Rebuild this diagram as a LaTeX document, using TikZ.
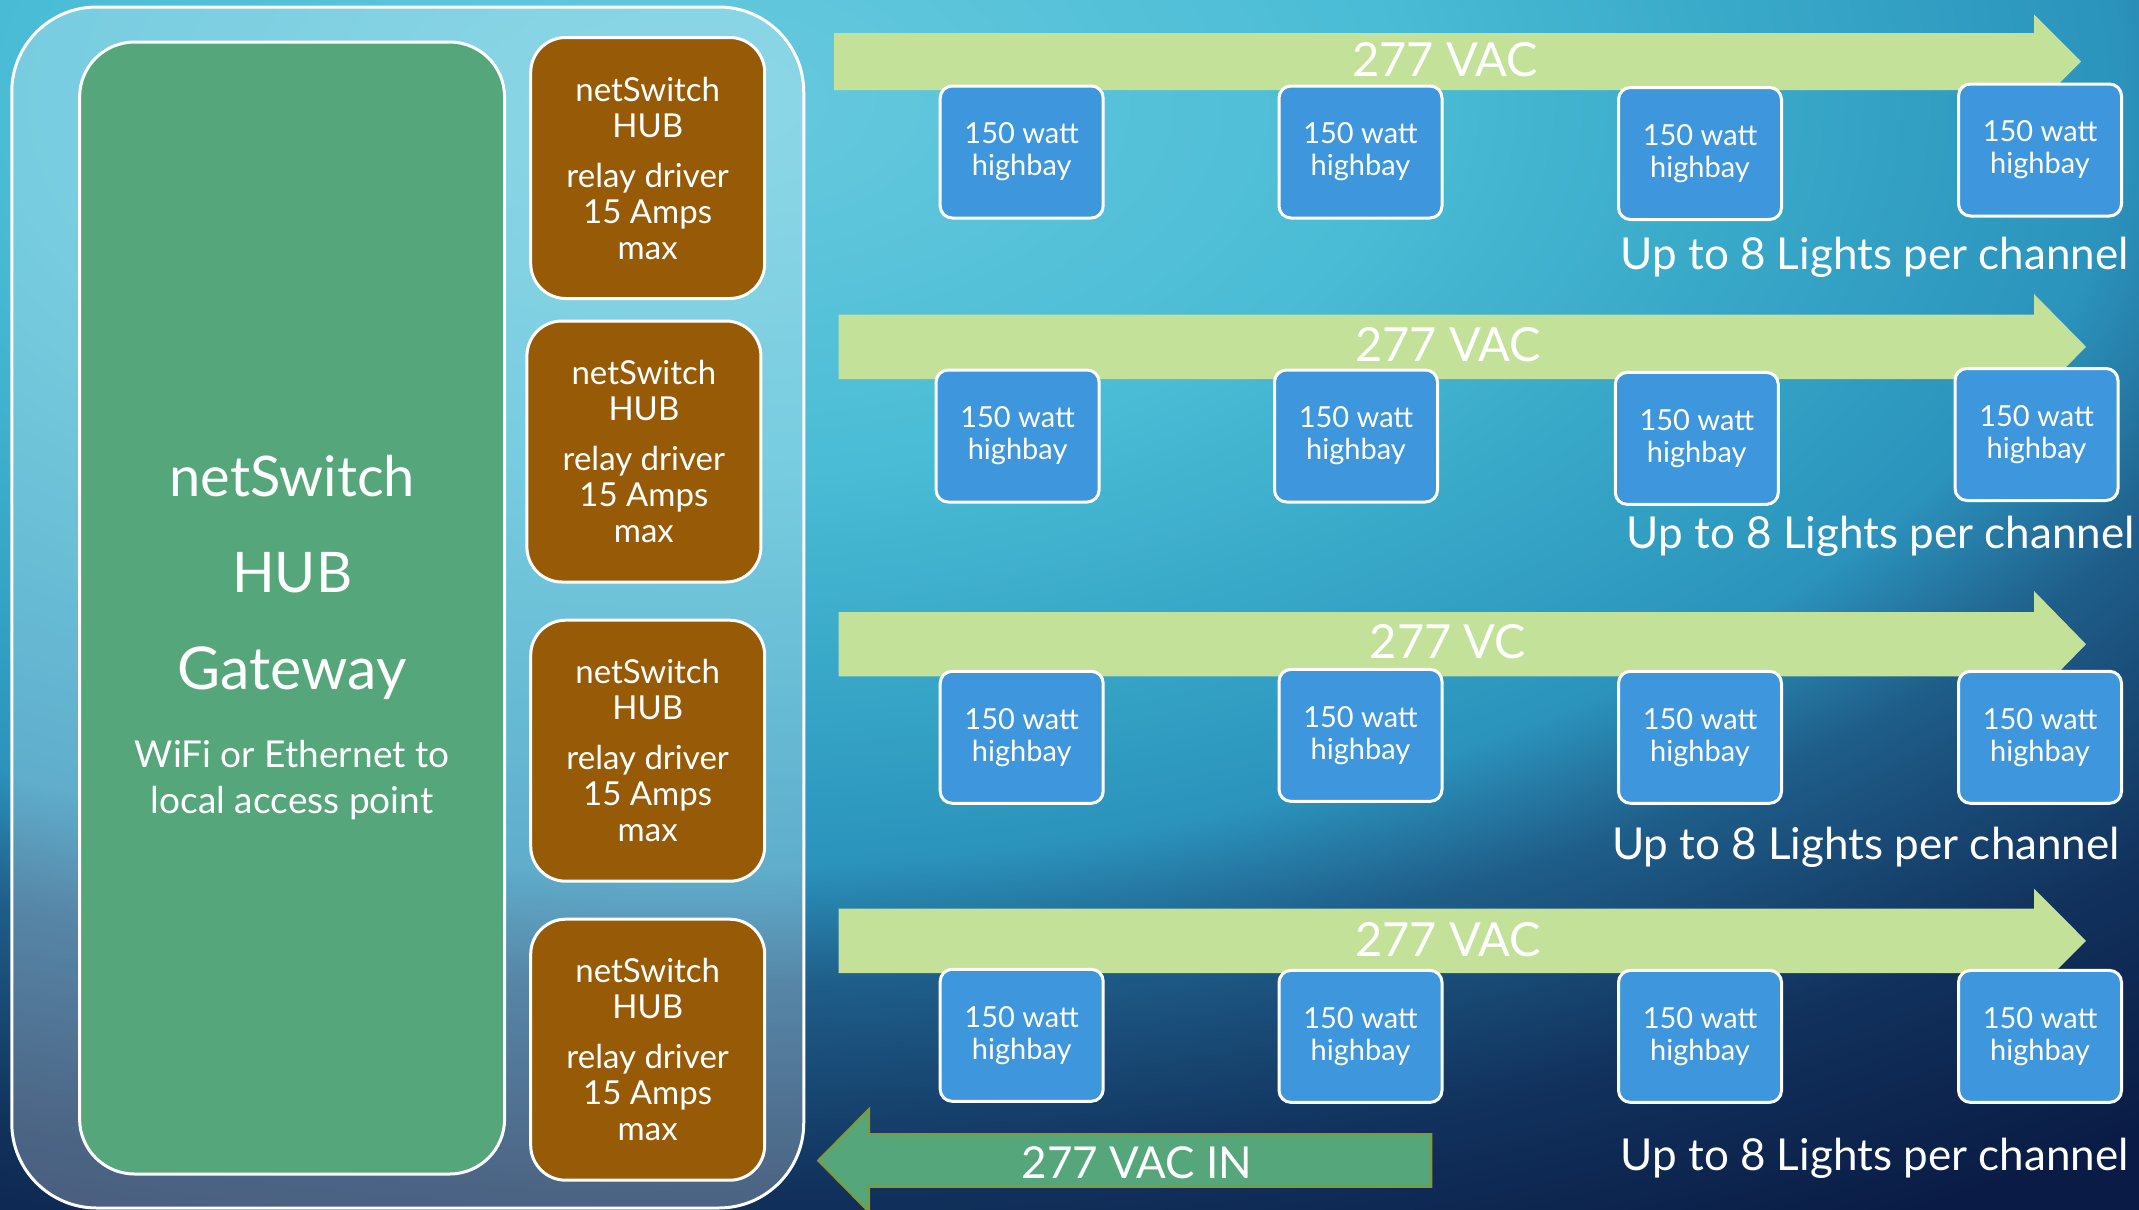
\documentclass[tikz,border=0pt]{standalone}
\usepackage{fontspec}
\setmainfont{Lato}
\definecolor{bgA}{HTML}{68CADF}
\definecolor{bgB}{HTML}{4ABCD5}
\definecolor{bgC}{HTML}{34A3C5}
\definecolor{bgD}{HTML}{2B93BC}
\definecolor{bgE}{HTML}{1F5E8A}
\definecolor{bgF}{HTML}{11325D}
\definecolor{bgG}{HTML}{0A1C45}
\definecolor{gwgreen}{HTML}{55A77B}
\definecolor{hubbrown}{HTML}{975A06}
\definecolor{lampblue}{HTML}{3E96DC}
\definecolor{chgreen}{HTML}{C4E19A}
\definecolor{inborder}{HTML}{7E9C3E}
\pgfdeclareradialshading{bgshade}{\pgfpoint{0bp}{0bp}}{color(0bp)=(bgA); color(6.7bp)=(bgB); color(11.1bp)=(bgC); color(13.7bp)=(bgD); color(15.8bp)=(bgE); color(19.4bp)=(bgF); color(23bp)=(bgG); color(50bp)=(bgG)}
\begin{document}
\begin{tikzpicture}[x=1pt,y=-1pt,
  every node/.style={inner sep=0pt, outer sep=0pt},
  panelbox/.style={draw=white, line width=3pt, fill=white, fill opacity=0.25, rounded corners=85pt, minimum width=792pt, minimum height=1201pt},
  gwbox/.style={draw=white, line width=3pt, fill=gwgreen, rounded corners=55pt, minimum width=425pt, minimum height=1132pt},
  hubbox/.style={draw=white, line width=3pt, fill=hubbrown, rounded corners=35pt, minimum width=234pt, minimum height=261pt, text=white, align=center, font=\fontsize{33}{36}\selectfont},
  lampbox/.style={draw=white, line width=3pt, fill=lampblue, rounded corners=12pt, minimum width=163pt, minimum height=132pt, text=white, align=center, font=\fontsize{29}{32}\selectfont},
  wtext/.style={text=white, anchor=base},
  gwbig/.style={wtext, font=\fontsize{56}{60}\selectfont},
  gwsmall/.style={wtext, font=\fontsize{37}{42}\selectfont},
  vlabel/.style={wtext, font=\fontsize{47}{50}\selectfont},
  perchan/.style={wtext, font=\fontsize{44}{48}\selectfont},
  chanarrow/.style={fill=chgreen},
  inarrow/.style={draw=inborder, line width=2.5pt, fill=gwgreen}
]
\useasboundingbox (0,0) rectangle (2139,1210);
% background
\begin{scope}
\clip (0,0) rectangle (2139,1210);
\shade[shading=bgshade] (700,100) ellipse [x radius=2600pt, y radius=1400pt];
\end{scope}

% left panel
\node[panelbox] (panel) at (407.75,607.5) {};
\node[gwbox] (gateway) at (292.1,608) {};
\node[gwbig] (gwt1) at (292.1,496) {netSwitch};
\node[gwbig] (gwt2) at (292.1,592) {HUB};
\node[gwbig, font=\fontsize{59}{60}\selectfont] (gwt3) at (292.1,689) {Gateway};
\node[gwsmall] (gwt4) at (292.1,767) {WiFi or Ethernet to};
\node[gwsmall] (gwt5) at (292.1,813) {local access point};

\node[hubbox] (hub1) at (647.7,168) {netSwitch\\HUB\\[14pt]relay driver\\15 Amps\\max};
\node[hubbox] (hub2) at (643.9,451.5) {netSwitch\\HUB\\[14pt]relay driver\\15 Amps\\max};
\node[hubbox] (hub3) at (647.7,750.7) {netSwitch\\HUB\\[14pt]relay driver\\15 Amps\\max};
\node[hubbox] (hub4) at (647.7,1049.7) {netSwitch\\HUB\\[14pt]relay driver\\15 Amps\\max};

% channel arrows
\fill[chanarrow] (834,33) -- (2034,33) -- (2034,14.5) -- (2081,61.5) -- (2034,108.5) -- (2034,90) -- (834,90) -- cycle;
\fill[chanarrow] (838.5,314.6) -- (2034,314.6) -- (2034,294) -- (2086,346.8) -- (2034,399.6) -- (2034,379) -- (838.5,379) -- cycle;
\fill[chanarrow] (838.5,612) -- (2034,612) -- (2034,591) -- (2086,644.2) -- (2034,697.4) -- (2034,676.4) -- (838.5,676.4) -- cycle;
\fill[chanarrow] (838.5,908.6) -- (2034,908.6) -- (2034,888.6) -- (2086,940.8) -- (2034,993) -- (2034,973) -- (838.5,973) -- cycle;

\node[vlabel] (lab1) at (1445,76) {277 VAC};
\node[vlabel] (lab2) at (1448,361) {277 VAC};
\node[vlabel] (lab3) at (1448,658) {277 VC};
\node[vlabel] (lab4) at (1448,956) {277 VAC};

% lamps row 1
\node[lampbox] (l11) at (1021.7,152) {150 watt\\highbay};
\node[lampbox] (l12) at (1360.5,152) {150 watt\\highbay};
\node[lampbox] (l13) at (1700,153.5) {150 watt\\highbay};
\node[lampbox] (l14) at (2040,150) {150 watt\\highbay};
% row 2
\node[lampbox] (l21) at (1017.6,436) {150 watt\\highbay};
\node[lampbox] (l22) at (1356,436) {150 watt\\highbay};
\node[lampbox] (l23) at (1696.8,438.4) {150 watt\\highbay};
\node[lampbox] (l24) at (2036.5,434.5) {150 watt\\highbay};
% row 3
\node[lampbox] (l31) at (1021.7,737.3) {150 watt\\highbay};
\node[lampbox] (l32) at (1360.5,735.4) {150 watt\\highbay};
\node[lampbox] (l33) at (1700,737.3) {150 watt\\highbay};
\node[lampbox] (l34) at (2040,737.3) {150 watt\\highbay};
% row 4
\node[lampbox] (l41) at (1021.7,1035.3) {150 watt\\highbay};
\node[lampbox] (l42) at (1360.5,1036.4) {150 watt\\highbay};
\node[lampbox] (l43) at (1700,1036.4) {150 watt\\highbay};
\node[lampbox] (l44) at (2040,1036.4) {150 watt\\highbay};

\node[perchan] (pc1) at (1874.6,269.8) {Up to 8 Lights per channel};
\node[perchan] (pc2) at (1880.8,548) {Up to 8 Lights per channel};
\node[perchan] (pc3) at (1866,859) {Up to 8 Lights per channel};
\node[perchan] (pc4) at (1874.6,1170.6) {Up to 8 Lights per channel};

% input arrow
\draw[inarrow] (1431,1134.4) -- (868.8,1134.4) -- (868.8,1109.5) -- (818.5,1160.5) -- (868.8,1211.5) -- (868.8,1186.7) -- (1431,1186.7) -- cycle;
\node[wtext, font=\fontsize{44}{48}\selectfont] (vin) at (1137,1178.6) {277 VAC IN};
\end{tikzpicture}
\end{document}
